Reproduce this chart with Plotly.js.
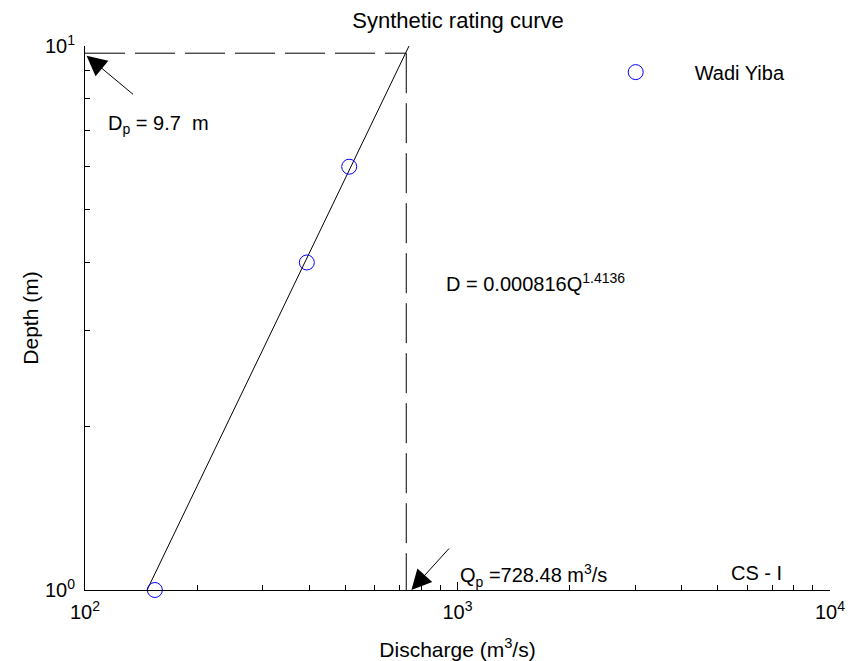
<!DOCTYPE html>
<html>
<head>
<meta charset="utf-8">
<script src="https://cdn.plot.ly/plotly-3.0.1.min.js"></script>
<style>html,body{margin:0;padding:0;background:#fff;}#chart{width:854px;height:661px;}</style>
</head>
<body>
<div id="chart"></div>
<script>
// Observed data (Wadi Yiba)
var obsQ = [154, 394, 512];
var obsD = [1, 4, 6];
// Fitted rating curve D = 0.000816 Q^1.4136 (end points)
var fitQ = [145, 741];
var fitD = [0.983, 10];
// Peak values
var peakQ = 728.48;
var peakD = 9.7;
var axisMinQ = 100;
var axisMinD = 1;
var refQ = [axisMinQ, peakQ, peakQ];
var refD = [peakD, peakD, axisMinD];
// Tick labels
var xTickVals = [100, 1000, 10000];
var xTickText = ['10<sup>2</sup>', '10<sup>3</sup>', '10<sup>4</sup>'];
var yTickVals = [1, 10];
var yTickText = ['10<sup>0</sup>', '10<sup>1</sup>'];

var FONT = 'Liberation Sans, Arial, Helvetica, sans-serif';

var traces = [
  {x: fitQ, y: fitD, mode: 'lines', line: {color: '#000', width: 1}, showlegend: false, hoverinfo: 'skip'},
  {x: refQ.slice(0,2), y: refD.slice(0,2), mode: 'lines', line: {color: '#000', width: 1, dash: '40px,10px'}, showlegend: false},
  {x: refQ.slice(1), y: refD.slice(1), mode: 'lines', line: {color: '#000', width: 1, dash: '40px,10px'}, showlegend: false},
  {x: obsQ, y: obsD, mode: 'markers', name: 'Wadi Yiba', cliponaxis: false,
   marker: {symbol: 'circle-open', size: 15, color: '#0000ff', line: {width: 1, color: '#0000ff'}}}
];

var layout = {
  width: 854, height: 661,
  margin: {l: 85, r: 24, t: 46, b: 71},
  paper_bgcolor: '#fff', plot_bgcolor: '#fff',
  font: {family: FONT, size: 20, color: '#000'},
  title: {text: 'Synthetic rating curve', font: {family: FONT, size: 22, color: '#000'}, x: 0.5363, xanchor: 'center', y: 0.97, yanchor: 'middle'},
  showlegend: true,
  legend: {x: 0.66, xanchor: 'left', y: 0.952, yanchor: 'middle', bgcolor: 'rgba(0,0,0,0)', borderwidth: 0,
           itemwidth: 108, font: {family: FONT, size: 20, color: '#000'}},
  xaxis: {
    type: 'log', range: [2, 4], tickmode: 'array', tickvals: xTickVals, ticktext: xTickText,
    showgrid: false, zeroline: false, showline: true, linecolor: '#000', linewidth: 1,
    ticks: 'inside', ticklen: 8, tickcolor: '#000', tickwidth: 1, ticklabelstandoff: 4,
    minor: {ticks: 'inside', ticklen: 5, tickcolor: '#000', dtick: 'D1', showgrid: false},
    tickfont: {family: FONT, size: 20, color: '#000'},
    title: {text: 'Discharge (m<sup>3</sup>/s)', font: {family: FONT, size: 21, color: '#000'}, standoff: 20}
  },
  yaxis: {
    type: 'log', range: [0, 1], tickmode: 'array', tickvals: yTickVals, ticktext: yTickText,
    showgrid: false, zeroline: false, showline: true, linecolor: '#000', linewidth: 1,
    ticks: 'inside', ticklen: 8, tickcolor: '#000', tickwidth: 1, ticklabelstandoff: 5,
    minor: {ticks: 'inside', ticklen: 5, tickcolor: '#000', dtick: 'D1', showgrid: false},
    tickfont: {family: FONT, size: 20, color: '#000'},
    title: {text: 'Depth (m)', font: {family: FONT, size: 21, color: '#000'}, standoff: 0}
  },
  annotations: [
    {x: Math.log10(101), y: Math.log10(9.6), xref: 'x', yref: 'y', text: '', showarrow: true,
     arrowhead: 2, arrowsize: 4, arrowwidth: 1, arrowcolor: '#000', ax: 48, ay: 40},
    {x: Math.log10(114), y: Math.log10(7.16), xref: 'x', yref: 'y', xanchor: 'left', yanchor: 'middle', showarrow: false,
     text: 'D<sub>p</sub> = 9.7  m'},
    {x: Math.log10(752), y: 0, xref: 'x', yref: 'y', text: '', showarrow: true,
     arrowhead: 2, arrowsize: 4, arrowwidth: 1, arrowcolor: '#000', ax: 39, ay: -43},
    {x: Math.log10(1000), y: Math.log10(1.065), xref: 'x', yref: 'y', xanchor: 'left', yanchor: 'middle', showarrow: false,
     text: 'Q<sub>p</sub> =728.48 m<sup>3</sup>/s'},
    {x: Math.log10(920), y: Math.log10(3.68), xref: 'x', yref: 'y', xanchor: 'left', yanchor: 'middle', showarrow: false,
     text: 'D = 0.000816Q<sup>1.4136</sup>'},
    {x: Math.log10(5370), y: Math.log10(1.074), xref: 'x', yref: 'y', xanchor: 'left', yanchor: 'middle', showarrow: false,
     text: 'CS - I'}
  ]
};

Plotly.newPlot('chart', traces, layout, {displayModeBar: false, staticPlot: true});
</script>
</body>
</html>
